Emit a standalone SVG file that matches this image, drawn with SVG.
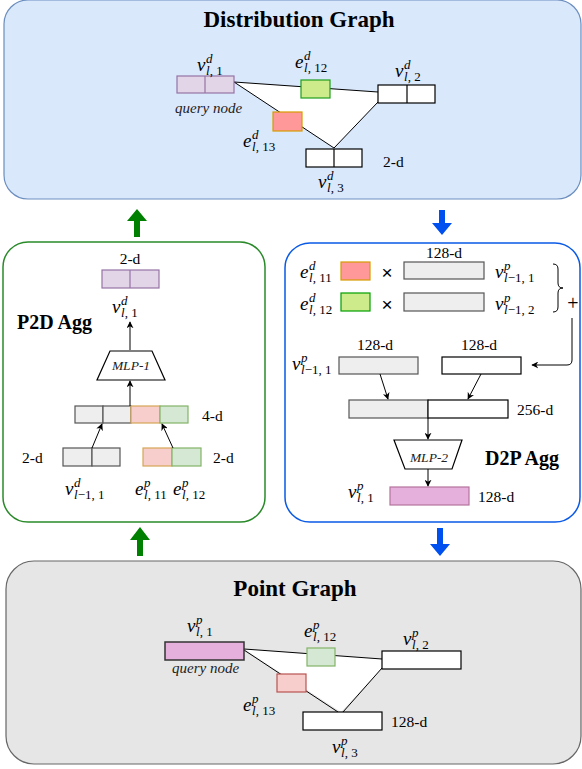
<svg xmlns="http://www.w3.org/2000/svg" width="582" height="769" viewBox="0 0 582 769">
<defs>
<style>
text{font-family:"Liberation Serif","Times New Roman",serif;fill:#000}
.title{font-size:23px;font-weight:bold;text-anchor:middle}
.agg{font-size:20px;font-weight:bold}
.dim{font-size:15.5px}
.q{font-size:15px;font-style:italic;fill:#222}
.mlp{font-size:13.5px;font-style:italic;text-anchor:middle;fill:#222}
.m{font-size:19px;font-style:italic}
.s{font-size:13px;font-style:normal}
.i{font-style:italic}
.op{font-family:"Liberation Sans",Arial,sans-serif;font-size:19px;text-anchor:middle}
.edge{stroke:#000;stroke-width:1;fill:none}
.arr{stroke:#000;stroke-width:1;fill:none;marker-end:url(#ah)}
.wb{fill:#fff;stroke:#000;stroke-width:1.2}
.gb{fill:#eeeeee;stroke:#555;stroke-width:1.2}
.pur{fill:#e1d5e7;stroke:#9673a6;stroke-width:1.2}
.pink{fill:#e6b0dc;stroke:#b5739d;stroke-width:1.2}
.lred{fill:#f8cecc;stroke:#d6a656;stroke-width:1.2}
.lgrn{fill:#d5e8d4;stroke:#82b366;stroke-width:1.2}
.red{fill:#ff9999;stroke:#d79b00;stroke-width:1.2}
.grn{fill:#cdeb8b;stroke:#1e9e1e;stroke-width:1.2}
.trap{fill:#fff;stroke:#000;stroke-width:1.2}
</style>
<marker id="ah" viewBox="0 0 10 10" refX="9" refY="5" markerWidth="7" markerHeight="7" markerUnits="userSpaceOnUse" orient="auto">
<path d="M0,0 L10,5 L0,10 L3,5 z" fill="#000"/>
</marker>
</defs>

<!-- Distribution Graph -->
<g id="distribution-graph">
<rect x="4" y="0" width="577" height="199" rx="24" fill="#dae8fc" stroke="#6c8ebf" stroke-width="1.2"/>
<text class="title" x="299" y="27">Distribution Graph</text>
<polygon points="234,82 378,92 378,102 334,148" fill="#fff"/>
<line class="edge" x1="234" y1="82" x2="378" y2="92"/>
<line class="edge" x1="234" y1="82" x2="334" y2="148"/>
<line class="edge" x1="378" y1="102" x2="334" y2="148"/>
<g id="d-v1"><rect class="pur" x="177" y="76" width="57" height="17"/><line x1="205" y1="76" x2="205" y2="93" stroke="#9673a6" stroke-width="1.2"/></g>
<g id="d-e12"><rect class="grn" x="301" y="80" width="29" height="18"/></g>
<g id="d-v2"><rect class="wb" x="378" y="85" width="57" height="18"/><line x1="407" y1="85" x2="407" y2="103" stroke="#000" stroke-width="1.2"/></g>
<g id="d-e13"><rect class="red" x="273" y="112" width="29" height="19"/></g>
<g id="d-v3"><rect class="wb" x="306" y="149" width="56" height="18"/><line x1="334" y1="149" x2="334" y2="167" stroke="#000" stroke-width="1.2"/></g>
<text class="dim" x="383" y="167">2-d</text>
<text class="q" x="175" y="113">query node</text>
<text class="m" x="197" y="71">v<tspan class="s i" x="206" y="63">d</tspan><tspan class="s" x="206" y="75"><tspan class="i">l</tspan>, 1</tspan></text>
<text class="m" x="295" y="68">e<tspan class="s i" x="304" y="60">d</tspan><tspan class="s" x="304" y="72"><tspan class="i">l</tspan>, 12</tspan></text>
<text class="m" x="395" y="77">v<tspan class="s i" x="404" y="69">d</tspan><tspan class="s" x="404" y="81"><tspan class="i">l</tspan>, 2</tspan></text>
<text class="m" x="243" y="147">e<tspan class="s i" x="252" y="139">d</tspan><tspan class="s" x="252" y="151"><tspan class="i">l</tspan>, 13</tspan></text>
<text class="m" x="318" y="188">v<tspan class="s i" x="327" y="180">d</tspan><tspan class="s" x="327" y="192"><tspan class="i">l</tspan>, 3</tspan></text>
</g>

<!-- P2D Agg -->
<g id="p2d-agg">
<rect x="3" y="242" width="262" height="280" rx="25" fill="#fff" stroke="#2a8a2a" stroke-width="1.5"/>
<text class="dim" x="130" y="264" text-anchor="middle">2-d</text>
<rect class="pur" x="102" y="270" width="57" height="18"/><line x1="130" y1="270" x2="130" y2="288" stroke="#9673a6" stroke-width="1.2"/>
<text class="m" x="112" y="313">v<tspan class="s i" x="121" y="305">d</tspan><tspan class="s" x="121" y="317"><tspan class="i">l</tspan>, 1</tspan></text>
<text class="agg" x="17" y="329">P2D Agg</text>
<polygon class="trap" points="110,351 152,351 165,380 97,380"/>
<text class="mlp" x="131" y="370">MLP-1</text>
<rect class="gb" x="75" y="406" width="28" height="17"/>
<rect class="gb" x="103" y="406" width="28" height="17"/>
<rect class="lred" x="131" y="406" width="29" height="17"/>
<rect class="lgrn" x="160" y="406" width="28" height="17"/>
<text class="dim" x="202" y="421">4-d</text>
<rect class="gb" x="63" y="448" width="29" height="18"/>
<rect class="gb" x="92" y="448" width="28" height="18"/>
<rect class="lred" x="143" y="448" width="29" height="18"/>
<rect class="lgrn" x="172" y="448" width="29" height="18"/>
<text class="dim" x="22" y="463">2-d</text>
<text class="dim" x="213" y="463">2-d</text>
<text class="m" x="65" y="495">v<tspan class="s i" x="74" y="487">d</tspan><tspan class="s" x="74" y="499"><tspan class="i">l</tspan>−1, 1</tspan></text>
<text class="m" x="135" y="495">e<tspan class="s i" x="144" y="487">p</tspan><tspan class="s" x="144" y="499"><tspan class="i">l</tspan>, 11</tspan></text>
<text class="m" x="173" y="495">e<tspan class="s i" x="182" y="487">p</tspan><tspan class="s" x="182" y="499"><tspan class="i">l</tspan>, 12</tspan></text>
</g>

<!-- D2P Agg -->
<g id="d2p-agg">
<rect x="285" y="243" width="295" height="279" rx="25" fill="#fff" stroke="#0a5ae6" stroke-width="1.5"/>
<text class="m" x="300" y="278">e<tspan class="s i" x="309" y="270">d</tspan><tspan class="s" x="309" y="282"><tspan class="i">l</tspan>, 11</tspan></text>
<rect class="red" x="341" y="262" width="29" height="18"/>
<text class="op" x="387" y="279">×</text>
<rect class="gb" x="404" y="262" width="80" height="17"/>
<text class="dim" x="444" y="258" text-anchor="middle">128-d</text>
<text class="m" x="495" y="278">v<tspan class="s i" x="504" y="270">p</tspan><tspan class="s" x="504" y="282"><tspan class="i">l</tspan>−1, 1</tspan></text>
<text class="m" x="300" y="310">e<tspan class="s i" x="309" y="302">d</tspan><tspan class="s" x="309" y="314"><tspan class="i">l</tspan>, 12</tspan></text>
<rect class="grn" x="341" y="293" width="29" height="18" style="stroke:#00a000"/>
<text class="op" x="387" y="311">×</text>
<rect class="gb" x="404" y="293" width="80" height="18"/>
<text class="m" x="495" y="310">v<tspan class="s i" x="504" y="302">p</tspan><tspan class="s" x="504" y="314"><tspan class="i">l</tspan>−1, 2</tspan></text>
<path d="M553,264 Q558,264 558,269 V283 Q558,288 563,288 Q558,288 558,293 V307 Q558,312 553,312" fill="none" stroke="#000" stroke-width="1"/>
<text x="573" y="310" font-size="20" text-anchor="middle">+</text>
<text class="dim" x="375" y="350" text-anchor="middle">128-d</text>
<rect class="gb" x="339" y="357" width="79" height="17"/>
<text class="m" x="292" y="370">v<tspan class="s i" x="301" y="362">p</tspan><tspan class="s" x="301" y="374"><tspan class="i">l</tspan>−1, 1</tspan></text>
<text class="dim" x="479" y="350" text-anchor="middle">128-d</text>
<rect class="wb" x="442" y="357" width="79" height="17"/>
<rect class="gb" x="349" y="400" width="79" height="18"/>
<rect class="wb" x="428" y="400" width="80" height="18"/>
<text class="dim" x="517" y="415">256-d</text>
<polygon class="trap" points="394,440 462,440 452,469 405,469"/>
<text class="mlp" x="429" y="462">MLP-2</text>
<text class="agg" x="485" y="465">D2P Agg</text>
<text class="m" x="348" y="498">v<tspan class="s i" x="357" y="490">p</tspan><tspan class="s" x="357" y="502"><tspan class="i">l</tspan>, 1</tspan></text>
<rect class="pink" x="390" y="487" width="79" height="18"/>
<text class="dim" x="478" y="502">128-d</text>
</g>

<!-- Point Graph -->
<g id="point-graph">
<rect x="6" y="561" width="575" height="203" rx="28" fill="#e6e6e6" stroke="#666" stroke-width="1.2"/>
<text class="title" x="295" y="596">Point Graph</text>
<polygon points="244,649 382,659 382,668 341,712" fill="#fff"/>
<line class="edge" x1="244" y1="649" x2="382" y2="659"/>
<line class="edge" x1="244" y1="650" x2="338" y2="712"/>
<line class="edge" x1="382" y1="668" x2="343" y2="712"/>
<g id="p-v1"><rect x="165" y="642" width="79" height="18" fill="#e6b0dc" stroke="#333" stroke-width="1.5"/></g>
<g id="p-e12"><rect class="lgrn" x="307" y="648" width="28" height="18"/></g>
<g id="p-v2"><rect class="wb" x="382" y="651" width="79" height="18"/></g>
<g id="p-e13"><rect x="277" y="674" width="29" height="18" fill="#f8cecc" stroke="#b85450" stroke-width="1.2"/></g>
<g id="p-v3"><rect class="wb" x="303" y="712" width="79" height="18"/></g>
<text class="dim" x="391" y="727">128-d</text>
<text class="q" x="172" y="673">query node</text>
<text class="m" x="187" y="632">v<tspan class="s i" x="196" y="624">p</tspan><tspan class="s" x="196" y="636"><tspan class="i">l</tspan>, 1</tspan></text>
<text class="m" x="304" y="637">e<tspan class="s i" x="313" y="629">p</tspan><tspan class="s" x="313" y="641"><tspan class="i">l</tspan>, 12</tspan></text>
<text class="m" x="403" y="645">v<tspan class="s i" x="412" y="637">p</tspan><tspan class="s" x="412" y="649"><tspan class="i">l</tspan>, 2</tspan></text>
<text class="m" x="243" y="711">e<tspan class="s i" x="252" y="703">p</tspan><tspan class="s" x="252" y="715"><tspan class="i">l</tspan>, 13</tspan></text>
<text class="m" x="332" y="753">v<tspan class="s i" x="341" y="745">p</tspan><tspan class="s" x="341" y="757"><tspan class="i">l</tspan>, 3</tspan></text>
</g>

<!-- Connectors -->
<g id="connectors">
<line class="arr" x1="130" y1="350" x2="130" y2="322"/>
<line class="arr" x1="130" y1="406" x2="130" y2="381"/>
<line class="arr" x1="92" y1="448" x2="102" y2="424"/>
<line class="arr" x1="173" y1="448" x2="162" y2="424"/>
<line class="arr" x1="380" y1="374" x2="388" y2="399"/>
<line class="arr" x1="481" y1="374" x2="468" y2="399"/>
<line class="arr" x1="428" y1="418" x2="428" y2="439"/>
<line class="arr" x1="428" y1="469" x2="428" y2="486"/>
<path class="arr" d="M572,318 V360 Q572,365 567,365 H532"/>
<polygon points="137,209 147,221 140,221 140,237 134,237 134,221 127,221" fill="#008000"/>
<polygon points="439,210 445,210 445,223 452,223 442,235 432,223 439,223" fill="#0050ef"/>
<polygon points="140,527 150,540 143,540 143,556 137,556 137,540 130,540" fill="#008000"/>
<polygon points="437,528 443,528 443,544 450,544 440,556 430,544 437,544" fill="#0050ef"/>
</g>
</svg>
